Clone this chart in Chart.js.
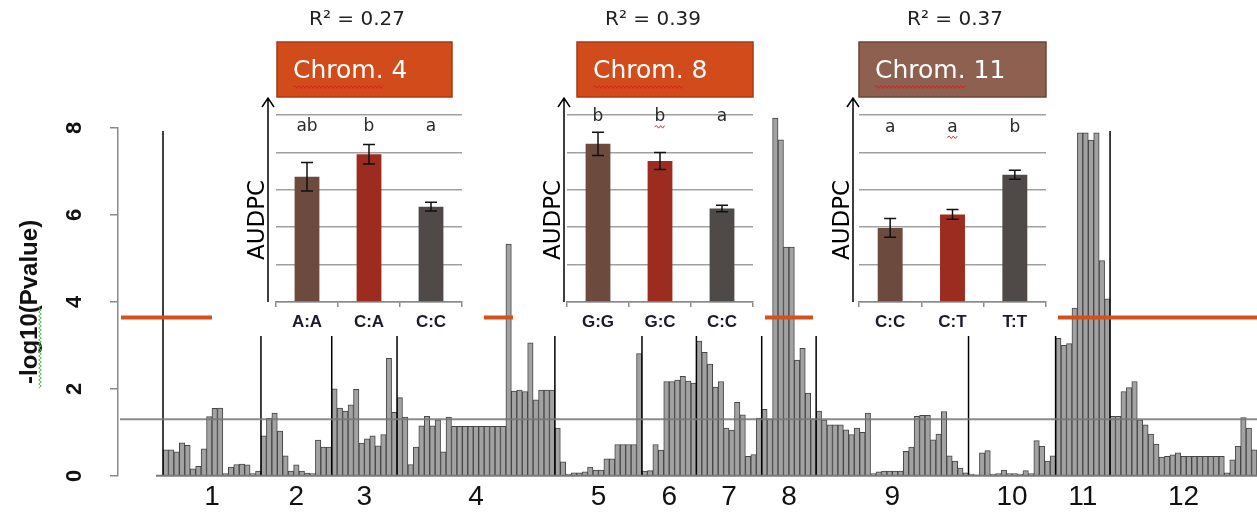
<!DOCTYPE html>
<html>
<head>
<meta charset="utf-8">
<script src="https://cdn.jsdelivr.net/npm/chart.js@4.4.1/dist/chart.umd.min.js"></script>
<style>
  html, body { margin: 0; padding: 0; background: #fff; }
  #wrap { position: relative; width: 1257px; height: 518px; overflow: hidden; }
  #wrap canvas { position: absolute; top: 0; }
</style>
</head>
<body>
<div id="wrap">
  <canvas id="main" width="1257" height="518" style="left:0"></canvas>
  <canvas id="inset4" width="272" height="336" style="left:212px"></canvas>
  <canvas id="inset8" width="252" height="336" style="left:513px"></canvas>
  <canvas id="inset11" width="245" height="336" style="left:813px"></canvas>
</div>
<script>
"use strict";

// -log10(P) per marker, one array per chromosome
const chromNames = ["1", "2", "3", "4", "5", "6", "7", "8", "9", "10", "11", "12"];
const chr1 = [0.60, 0.60, 0.55, 0.76, 0.70, 0.16, 0.22, 0.62, 1.36, 1.55, 1.56, 0.05, 0.20, 0.26, 0.27, 0.25, 0.05, 0.11];
const chr2 = [0.92, 1.33, 1.44, 1.03, 0.46, 0.11, 0.25, 0.11, 0.06, 0.05, 0.82, 0.66, 0.66];
const chr3 = [2.00, 1.56, 1.49, 1.63, 1.99, 0.75, 0.85, 0.92, 0.69, 0.95, 2.70, 1.46];
const chr4 = [1.80, 1.35, 0.26, 0.66, 1.15, 1.37, 1.15, 1.29, 0.55, 1.35,
              1.14, 1.14, 1.14, 1.14, 1.14, 1.14, 1.14, 1.14, 1.14, 1.14,
              5.33, 1.95, 1.97, 1.94, 3.06, 1.75, 1.97, 1.97, 1.97];
const chr5 = [1.10, 0.32, 0.04, 0.07, 0.07, 0.09, 0.20, 0.13, 0.13, 0.39, 0.39, 0.72, 0.72, 0.72, 0.72, 2.81];
const chr6 = [0.11, 0.12, 0.72, 0.59, 2.17, 2.17, 2.20, 2.29, 2.18, 2.13];
const chr7 = [3.10, 2.84, 2.57, 2.04, 2.17, 1.10, 1.05, 1.69, 1.40, 0.45, 0.49, 1.33];
const chr8 = [1.53, 1.31, 8.23, 7.73, 5.26, 5.26, 2.66, 2.93, 1.90, 1.31];
const chr9 = [1.49, 1.29, 1.17, 1.17, 1.17, 1.06, 0.95, 1.10, 1.00, 1.44, 0.05, 0.09, 0.11, 0.11,
              0.11, 0.11, 0.56, 0.66, 1.37, 1.39, 1.39, 0.83, 0.96, 1.48, 0.46, 0.34, 0.18, 0.07];
const chr10 = [0.04, 0.02, 0.53, 0.58, 0.04, 0.05, 0.13, 0.05, 0.05, 0.04, 0.12, 0.05, 0.81, 0.68, 0.34, 0.46];
const chr11 = [3.16, 3.00, 3.04, 3.86, 7.89, 7.89, 7.72, 7.89, 4.95, 4.07];
const chr12 = [1.37, 1.37, 1.94, 2.03, 2.17, 1.29, 1.17, 0.96, 0.73, 0.43, 0.45, 0.48, 0.53, 0.45,
               0.45, 0.45, 0.45, 0.45, 0.45, 0.45, 0.45, 0.07, 0.37, 0.68, 1.34, 1.10, 0.60];
const yTicks = [0, 2, 4, 6, 8];
const suggestiveLine = 1.3;
const thresholdLine = 3.64;

// genotype means (AUDPC) for the three inset panels
const gen4 = ["A:A", "C:A", "C:C"];
const audpc4 = [3.35, 3.95, 2.55];
const err4 = [0.38, 0.26, 0.12];
const letters4 = ["ab", "b", "a"];
const gen8 = ["G:G", "G:C", "C:C"];
const audpc8 = [4.23, 3.77, 2.50];
const err8 = [0.31, 0.23, 0.09];
const letters8 = ["b", "b", "a"];
const gen11 = ["C:C", "C:T", "T:T"];
const audpc11 = [1.98, 2.34, 3.40];
const err11 = [0.25, 0.13, 0.12];
const letters11 = ["a", "a", "b"];
const r2Values = ["0.27", "0.39", "0.37"];
const genotypeColors = ["#6D4A3E", "#9B2C1F", "#4F4A48"];

const chromValues = [chr1, chr2, chr3, chr4, chr5, chr6, chr7, chr8, chr9, chr10, chr11, chr12];
const pvalues = chromValues.flat();
const chromStart = [];
let acc = 0;
chromValues.forEach(function (c) { chromStart.push(acc); acc += c.length; });
const nBars = acc;
const chromMid = chromValues.map(function (c, k) { return chromStart[k] + c.length / 2; });

// layout: y axis at 118px, first marker at 163px
const AXIS_X = 118, BARS_X = 163, W = 1257;
const xMin = -nBars * (BARS_X - AXIS_X) / (W - BARS_X);

function wavyH(ctx, x1, x2, y, color) {
    ctx.save();
    ctx.strokeStyle = color;
    ctx.lineWidth = 1;
    ctx.beginPath();
    let up = true;
    ctx.moveTo(x1, y);
    for (let x = x1 + 2; x <= x2; x += 2) {
        ctx.lineTo(x, up ? y - 1.3 : y + 1.3);
        up = !up;
    }
    ctx.stroke();
    ctx.restore();
}

function wavyV(ctx, x, y1, y2, color) {
    ctx.save();
    ctx.strokeStyle = color;
    ctx.lineWidth = 1;
    ctx.beginPath();
    let left = true;
    ctx.moveTo(x, y1);
    for (let y = y1 + 2; y <= y2; y += 2) {
        ctx.lineTo(left ? x - 1.3 : x + 1.3, y);
        left = !left;
    }
    ctx.stroke();
    ctx.restore();
}

const manhattanLines = {
    id: "manhattanLines",
    afterDatasetsDraw: function (chart) {
        const ctx = chart.ctx, area = chart.chartArea;
        const x = chart.scales.x, y = chart.scales.y;
        ctx.save();
        // chromosome separators
        ctx.strokeStyle = "#000";
        ctx.lineWidth = 1.5;
        chromStart.forEach(function (s) {
            const px = x.getPixelForValue(s);
            ctx.beginPath();
            ctx.moveTo(px, y.getPixelForValue(8) + 3);
            ctx.lineTo(px, area.bottom);
            ctx.stroke();
        });
        // suggestive threshold (gray)
        ctx.strokeStyle = "rgba(120,120,120,0.85)";
        ctx.lineWidth = 2;
        let py = y.getPixelForValue(suggestiveLine);
        ctx.beginPath();
        ctx.moveTo(area.left + 2, py);
        ctx.lineTo(area.right, py);
        ctx.stroke();
        // significance threshold (orange)
        ctx.strokeStyle = "#D5511C";
        ctx.lineWidth = 4;
        py = y.getPixelForValue(thresholdLine);
        ctx.beginPath();
        ctx.moveTo(area.left + 3, py);
        ctx.lineTo(area.right, py);
        ctx.stroke();
        // baseline under the markers
        ctx.strokeStyle = "#7a7a7a";
        ctx.lineWidth = 2;
        ctx.beginPath();
        ctx.moveTo(x.getPixelForValue(0) - 7, area.bottom);
        ctx.lineTo(area.right, area.bottom);
        ctx.stroke();
        ctx.restore();
        // spell-check squiggle on the axis title
        wavyV(ctx, 40, 306, 388, "#4CB84C");
    }
};

new Chart(document.getElementById("main"), {
    type: "bar",
    data: {
        datasets: [{
            data: pvalues.map(function (v, i) { return { x: i + 0.5, y: v }; }),
            backgroundColor: "#a2a2a2",
            borderColor: "#454545",
            borderWidth: 1,
            barPercentage: 1,
            categoryPercentage: 1,
            clip: false
        }]
    },
    options: {
        responsive: false,
        animation: false,
        devicePixelRatio: 1,
        layout: { padding: { top: 128, left: 0, right: 0, bottom: 0 } },
        plugins: { legend: { display: false }, tooltip: { enabled: false } },
        scales: {
            x: {
                type: "linear",
                min: xMin,
                max: nBars,
                offset: false,
                grid: { display: false, drawTicks: false },
                border: { display: false },
                afterBuildTicks: function (scale) {
                    scale.ticks = chromMid.map(function (v) { return { value: v }; });
                },
                afterFit: function (scale) { scale.height = 40; },
                ticks: {
                    autoSkip: false,
                    maxRotation: 0,
                    padding: 5,
                    color: "#111",
                    font: { family: "'Liberation Sans Narrow', 'Liberation Sans', sans-serif", size: 28 },
                    callback: function (value, index) { return chromNames[index]; }
                }
            },
            y: {
                min: 0,
                max: 8,
                afterBuildTicks: function (scale) {
                    scale.ticks = yTicks.map(function (v) { return { value: v }; });
                },
                afterFit: function (scale) { scale.width = AXIS_X; },
                grid: { drawOnChartArea: false, drawTicks: true, tickLength: 8, color: "#8a8a8a", lineWidth: 1.5 },
                border: { color: "#8a8a8a", width: 1.5 },
                ticks: {
                    minRotation: 90,
                    maxRotation: 90,
                    crossAlign: "center",
                    padding: 29,
                    color: "#111",
                    font: { family: "'Liberation Sans', sans-serif", size: 22, weight: "bold" }
                },
                title: {
                    display: true,
                    text: "-log10(Pvalue)",
                    color: "#111",
                    padding: { top: 16, bottom: 0 },
                    font: { family: "'Liberation Sans', sans-serif", size: 24, weight: "bold" }
                }
            }
        }
    },
    plugins: [manhattanLines]
});

// ---- inset panels ----
function insetDecor(cfg) {
    return {
        id: "insetDecor",
        beforeDraw: function (chart) {
            const ctx = chart.ctx;
            ctx.save();
            ctx.fillStyle = "#fff";
            ctx.fillRect(0, 0, chart.width, chart.height);
            ctx.restore();
        },
        afterDatasetsDraw: function (chart) {
            const ctx = chart.ctx, area = chart.chartArea, y = chart.scales.y;
            const bars = chart.getDatasetMeta(0).data;
            ctx.save();
            // error bars
            ctx.strokeStyle = "#111";
            ctx.lineWidth = 1.5;
            bars.forEach(function (b, i) {
                const t = y.getPixelForValue(cfg.values[i] + cfg.errors[i]);
                const bt = y.getPixelForValue(cfg.values[i] - cfg.errors[i]);
                ctx.beginPath();
                ctx.moveTo(b.x, t); ctx.lineTo(b.x, bt);
                ctx.moveTo(b.x - 6, t); ctx.lineTo(b.x + 6, t);
                ctx.moveTo(b.x - 6, bt); ctx.lineTo(b.x + 6, bt);
                ctx.stroke();
            });
            // significance letters
            ctx.fillStyle = "#2a2a2a";
            ctx.font = "17px 'DejaVu Sans', sans-serif";
            ctx.textAlign = "center";
            ctx.textBaseline = "middle";
            const ly = y.getPixelForValue(cfg.letterLevel);
            bars.forEach(function (b, i) {
                ctx.fillText(cfg.letters[i], b.x, ly);
                if (i === cfg.flagLetter) {
                    const w = ctx.measureText(cfg.letters[i]).width;
                    wavyH(ctx, b.x - w / 2, b.x + w / 2 + 1, ly + 10, "#E03030");
                }
            });
            // y axis arrow
            ctx.strokeStyle = "#000";
            ctx.lineWidth = 1.5;
            ctx.beginPath();
            ctx.moveTo(cfg.arrowX, area.bottom);
            ctx.lineTo(cfg.arrowX, 98);
            ctx.moveTo(cfg.arrowX - 6, 107);
            ctx.lineTo(cfg.arrowX, 98);
            ctx.lineTo(cfg.arrowX + 6, 107);
            ctx.stroke();
            // AUDPC label
            ctx.save();
            ctx.translate(cfg.labelX, 220);
            ctx.rotate(-Math.PI / 2);
            ctx.fillStyle = "#000";
            ctx.font = "23px 'DejaVu Sans', sans-serif";
            ctx.fillText("AUDPC", 0, 0);
            ctx.restore();
            // R squared
            ctx.fillStyle = "#222";
            ctx.font = "20px 'DejaVu Sans', sans-serif";
            ctx.fillText("R\u00B2 = " + cfg.r2, cfg.r2X, 20);
            // title box
            ctx.fillStyle = cfg.boxColor;
            ctx.fillRect(cfg.boxLeft, 42, cfg.boxRight - cfg.boxLeft, 55);
            ctx.strokeStyle = cfg.boxEdge;
            ctx.lineWidth = 1.5;
            ctx.strokeRect(cfg.boxLeft, 42, cfg.boxRight - cfg.boxLeft, 55);
            ctx.fillStyle = "#fff";
            ctx.font = "25px 'DejaVu Sans', sans-serif";
            ctx.textAlign = "left";
            ctx.fillText(cfg.title, cfg.boxLeft + 16, 71);
            const cw = ctx.measureText("Chrom.").width;
            wavyH(ctx, cfg.boxLeft + 16, cfg.boxLeft + 16 + cw, 87, "#E02020");
            ctx.restore();
        }
    };
}

function makeInset(id, cfg) {
    const canvas = document.getElementById(id);
    return new Chart(canvas, {
        type: "bar",
        data: {
            labels: cfg.genotypes,
            datasets: [{
                data: cfg.values,
                backgroundColor: genotypeColors,
                barPercentage: 0.4,
                categoryPercentage: 1
            }]
        },
        options: {
            responsive: false,
            animation: false,
            devicePixelRatio: 1,
            layout: { padding: { top: 115, left: 0, right: canvas.width - cfg.plotRight, bottom: 0 } },
            plugins: { legend: { display: false }, tooltip: { enabled: false } },
            scales: {
                x: {
                    grid: { offset: true, drawOnChartArea: false, drawTicks: true, tickLength: 5, color: "#8a8a8a", lineWidth: 1.5 },
                    border: { color: "#8a8a8a", width: 1.5 },
                    afterFit: function (scale) { scale.height = 34; },
                    ticks: {
                        padding: 5,
                        color: "#1b1b2e",
                        font: { family: "'Liberation Sans', sans-serif", size: 17, weight: "bold" }
                    }
                },
                y: {
                    min: 0,
                    max: 5,
                    afterFit: function (scale) { scale.width = cfg.plotLeft; },
                    grid: { color: "#a0a0a0", lineWidth: 1.5, drawTicks: false },
                    border: { display: false },
                    ticks: { display: false, stepSize: 1 }
                }
            }
        },
        plugins: [insetDecor(cfg)]
    });
}

makeInset("inset4", {
    genotypes: gen4, values: audpc4, errors: err4, letters: letters4, r2: r2Values[0],
    title: "Chrom. 4", boxColor: "#D24B1B", boxEdge: "#A63A16",
    plotLeft: 64, plotRight: 250, boxLeft: 65, boxRight: 240, r2X: 145,
    arrowX: 56, labelX: 46, letterLevel: 4.7, flagLetter: -1
});
makeInset("inset8", {
    genotypes: gen8, values: audpc8, errors: err8, letters: letters8, r2: r2Values[1],
    title: "Chrom. 8", boxColor: "#D24B1B", boxEdge: "#A63A16",
    plotLeft: 54, plotRight: 240, boxLeft: 64, boxRight: 240, r2X: 140,
    arrowX: 51, labelX: 41, letterLevel: 4.95, flagLetter: 1
});
makeInset("inset11", {
    genotypes: gen11, values: audpc11, errors: err11, letters: letters11, r2: r2Values[2],
    title: "Chrom. 11", boxColor: "#8E604F", boxEdge: "#6C4434",
    plotLeft: 46, plotRight: 233, boxLeft: 46, boxRight: 233, r2X: 142,
    arrowX: 40, labelX: 30, letterLevel: 4.67, flagLetter: 1
});
</script>
</body>
</html>
